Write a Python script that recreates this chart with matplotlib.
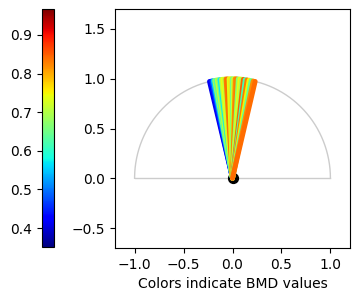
import matplotlib
matplotlib.use("Agg")
import matplotlib.pyplot as plt
import numpy as np

# angle of each line (degrees) and its BMD value
angles_deg = [103.6, 102.9, 102.1, 101.3, 100.5, 99.7, 98.9, 98.1, 97.3, 96.5,
              95.6, 94.7, 93.8, 92.9, 92.0, 91.1, 90.2, 89.3, 88.4, 87.5,
              86.6, 85.6, 84.6, 83.6, 82.5, 81.4, 80.2, 79.0, 77.8, 76.6]
bmd = [0.41, 0.43, 0.47, 0.55, 0.68, 0.63, 0.72, 0.66, 0.57, 0.70,
       0.74, 0.71, 0.83, 0.84, 0.73, 0.76, 0.65, 0.72, 0.82, 0.83,
       0.67, 0.74, 0.70, 0.85, 0.62, 0.83, 0.75, 0.64, 0.82, 0.84]
vmin, vmax = 0.351, 0.967

fig = plt.figure(figsize=(3.6, 3.01), dpi=100)
ax = fig.add_axes([115 / 360, 53 / 301, 235 / 360, 239 / 301])
cax = fig.add_axes([42 / 360, 54 / 301, 12 / 360, 238 / 301])

cmap = plt.get_cmap("jet")
norm = plt.Normalize(vmin, vmax)

# semicircle outline
t = np.linspace(0, np.pi, 200)
ax.plot(np.cos(t), np.sin(t), color="#cccccc", linewidth=1, zorder=1)
ax.plot([-1, 1], [0, 0], color="#cccccc", linewidth=1, zorder=1)

ax.scatter([0], [0], color="black", s=50, zorder=2)

for a, v in zip(angles_deg, bmd):
    th = np.deg2rad(a)
    ax.plot([0, np.cos(th)], [0, np.sin(th)], color=cmap(norm(v)),
            linewidth=3.5, solid_capstyle="round", zorder=3)

ax.set_xlim(-1.2, 1.2)
ax.set_ylim(-0.7, 1.7)
ax.set_xticks([-1.0, -0.5, 0.0, 0.5, 1.0])
ax.set_yticks([-0.5, 0.0, 0.5, 1.0, 1.5])
ax.set_xlabel("Colors indicate BMD values")

sm = plt.cm.ScalarMappable(cmap=cmap, norm=norm)
cb = fig.colorbar(sm, cax=cax)
cax.yaxis.set_ticks_position("left")
cb.set_ticks([0.4, 0.5, 0.6, 0.7, 0.8, 0.9])

fig.savefig("out.png", dpi=100)
